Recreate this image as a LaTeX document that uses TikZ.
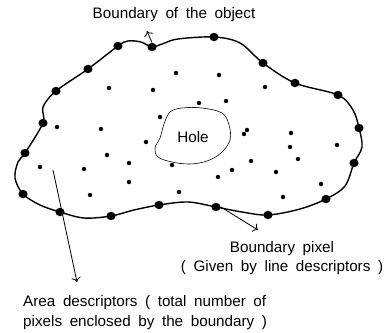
\documentclass[tikz,border=0pt]{standalone}
\usepackage{fontspec}
\setmainfont{Liberation Sans}[WordSpace=1.8]
\usetikzlibrary{arrows.meta,positioning,shapes.geometric}

\begin{document}
\begin{tikzpicture}[
		x=0.03cm, y=-0.03cm,
		font=\fontsize{13}{16.5}\selectfont,
		>={To[length=4pt,width=8pt]},
		bpixel/.style={ellipse, fill, inner sep=0pt, minimum width=7.8pt, minimum height=7.2pt},
		apixel/.style={circle, fill, inner sep=0pt, minimum size=3.8pt},
		outline/.style={line width=1.2pt},
		holeline/.style={line width=0.5pt},
		arrow/.style={line width=0.7pt,->},
		desc/.style={align=left, inner sep=0pt}
		]
		\useasboundingbox (0,0) rectangle (384,333);

		% object boundary and hole
		\draw[outline] plot[smooth cycle, tension=0.55] coordinates {
			(118,46) (128,41) (141,42) (152,47) (162,44) (178,39) (214,37) (240,43)
			(263,63) (295,83) (338,95) (353,110) (359,128) (362,147) (354,163)
			(345,186) (326,199) (300,209) (268,215) (242,212) (216,207) (188,202)
			(159,205) (134,210) (111,216) (84,218) (60,212) (40,205) (23,194)
			(15,178) (18,162) (25,153) (43,123) (43,107) (56,91) (88,69)};
		\draw[holeline] plot[smooth cycle, tension=0.6] coordinates {
			(170,112) (182,108) (202,108) (222,113) (229,125) (230,140) (221,153)
			(207,161) (190,164) (172,162) (158,157) (155,148) (160,138) (164,124)};
		\node (hole) at (193,137) {Hole};

		% boundary pixels
		\foreach \p [count=\i] in {(118,46),(152,47),(214,37),(263,63),(295,83),(338,95),
			(359,128),(354,163),(326,199),(268,215),(216,207),(159,205),(111,216),
			(60,212),(23,194),(25,153),(43,123),(56,91),(88,69)}
			\node[bpixel] (bp\i) at \p {};

		% pixels inside the boundary
		\foreach \p [count=\i] in {(176,73),(219,75),(109,88),(153,90),(265,87),(199,103),
			(226,101),(160,117),(57,127),(101,129),(247,130),(244,134),(291,133),
			(146,142),(290,147),(337,145),(107,155),(129,163),(172,165),(251,161),
			(298,159),(40,167),(84,169),(232,170),(276,172),(129,182),(218,177),
			(321,184),(90,195),(179,192),(283,197)}
			\node[apixel] (ap\i) at \p {};

		% labels
		\node (objlabel) at (174,15) {Boundary of the object};
		\node[desc, align=center] (pixlabel) at (282,258) {Boundary pixel\\( Given by line descriptors )};
		\node[desc, anchor=west] (arealabel) at (23,312.5) {Area descriptors ( total number of\\pixels enclosed by the boundary )};

		\coordinate (objtip) at (147,31);
		\coordinate (pixtip) at (258,230);
		\coordinate (areastart) at (53,170);
		\coordinate (areatip) at (77,282);

		\draw[arrow] (bp2.north) -- (objtip);
		\draw[arrow] (bp11.east) -- (pixtip);
		\draw[arrow] (areastart) -- (areatip);
	\end{tikzpicture}
\end{document}
